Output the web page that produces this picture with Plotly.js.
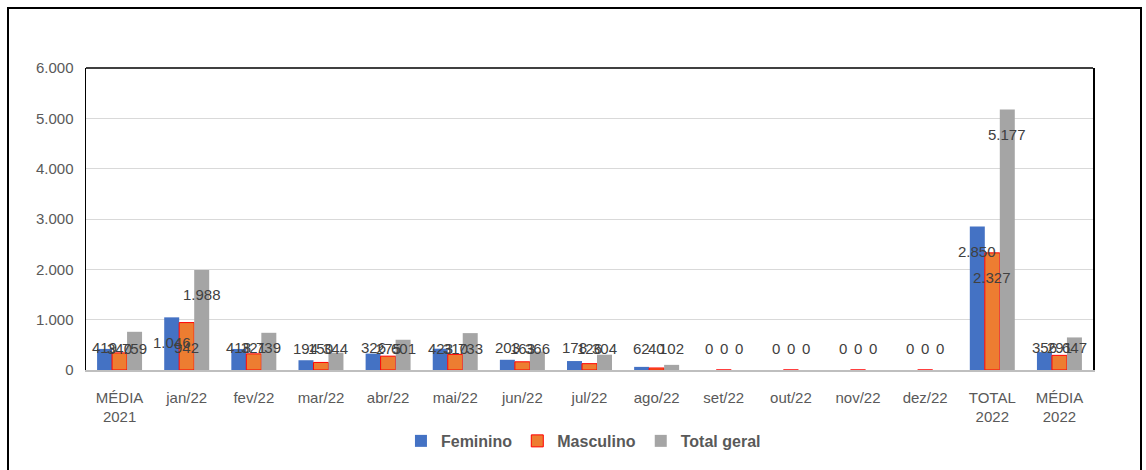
<!DOCTYPE html>
<html><head><meta charset="utf-8">
<script src="https://cdn.plot.ly/plotly-3.0.1.min.js"></script>
<style>
html,body{margin:0;padding:0;background:#fff;}
#frame{position:absolute;left:7px;top:7px;width:1131px;height:480px;border:2px solid #000;pointer-events:none;z-index:5;}
#chart{position:absolute;left:0;top:0;width:1146px;height:470px;}
</style></head>
<body>
<div id="chart"></div>
<div id="frame"></div>
<script>
const categories = ["MÉDIA<br>2021","jan/22","fev/22","mar/22","abr/22","mai/22","jun/22","jul/22","ago/22","set/22","out/22","nov/22","dez/22","TOTAL<br>2022","MÉDIA<br>2022"];
const feminino   = [419,1046,418,194,326,423,203,178,62,0,0,0,0,2850,356];
const masculino  = [340,942,321,150,275,310,163,126,40,0,0,0,0,2327,291];
const totalGeral = [759,1988,739,344,601,733,366,304,102,0,0,0,0,5177,647];
const yTicks = [0,1000,2000,3000,4000,5000,6000];

const fontFam = '"Liberation Sans Narrow", "Liberation Sans", Arial, sans-serif';
const plotH = 302, yMax = 6000;
function fmt(v){ return v.toString().replace(/\B(?=(\d{3})+(?!\d))/g, '.'); }

const series = [
  {name:'Feminino', y:feminino, color:'#4472C4', line:{width:0}, shift:-15},
  {name:'Masculino', y:masculino, color:'#ED7D31', line:{color:'#FF0000', width:1}, shift:0},
  {name:'Total geral', y:totalGeral, color:'#A5A5A5', line:{width:0}, shift:15}
];
const traces = series.map(s => ({
  type:'bar', name:s.name, x:categories, y:s.y,
  marker:{color:s.color, line:s.line}, hoverinfo:'x+y'
}));
const annotations = [];
series.forEach(s => {
  s.y.forEach((v,i) => {
    const px = v*plotH/yMax;
    const ys = (px >= 47) ? -25 : (22 - px);
    annotations.push({x:categories[i], y:v, xref:'x', yref:'y', text:fmt(v), showarrow:false,
      xshift:s.shift, yshift:ys, font:{family:fontFam, size:15, color:'#404040'}});
  });
});
const layout = {
  width:1146, height:470,
  margin:{l:86, r:53, t:68, b:100},
  paper_bgcolor:'#fff', plot_bgcolor:'#fff',
  separators:',.',
  barmode:'group', bargap:0.33, bargroupgap:0,
  font:{family:fontFam, color:'#595959', size:15},
  xaxis:{type:'category', showline:true, linecolor:'#BFBFBF', linewidth:1.5, ticks:'', showgrid:false,
    layer:'above traces', ticklabelstandoff:13,
    tickfont:{family:fontFam, size:15, color:'#595959'}},
  yaxis:{range:[0,yMax], tickvals:yTicks, tickformat:',d', showgrid:true, gridcolor:'#D9D9D9', gridwidth:1,
    showline:true, linecolor:'#000', linewidth:1.5, mirror:true, zeroline:false, ticks:'',
    tickfont:{family:fontFam, size:15, color:'#595959'}, ticklabelstandoff:8},
  shapes:[{type:'line', xref:'paper', yref:'paper', x0:0, x1:1, y0:1, y1:1, line:{color:'#000', width:1.5}}],
  legend:{orientation:'h', x:0.494, xanchor:'center', y:-0.235, yanchor:'middle',
    font:{family:fontFam, size:16, color:'#595959', weight:'bold'}, itemwidth:30, traceorder:'normal'},
  annotations:annotations,
  showlegend:true
};
Plotly.newPlot('chart', traces, layout, {displayModeBar:false, staticPlot:true});
</script>
</body></html>
